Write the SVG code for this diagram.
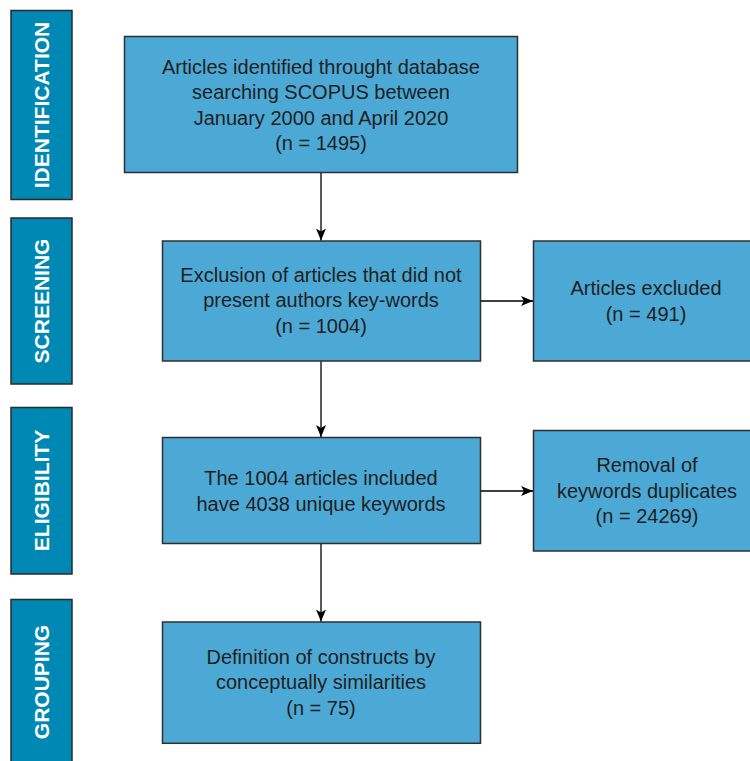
<svg xmlns="http://www.w3.org/2000/svg" width="750" height="761" viewBox="0 0 750 761">
<style>
.side{fill:#0088b4;stroke:#2a2a2a;stroke-width:1.5}
.box{fill:#4ca8d5;stroke:#2f2f2f;stroke-width:1.5}
.st{font-family:"Liberation Sans",Arial,sans-serif;font-weight:bold;font-size:21px;fill:#ffffff;text-anchor:middle;dominant-baseline:central}
.t{font-family:"Liberation Sans",Arial,sans-serif;font-size:20px;fill:#1f1f1f;text-anchor:middle}
.c{stroke:#000;stroke-width:1.3;fill:none}
</style>
<defs>
<marker id="ah" markerUnits="userSpaceOnUse" markerWidth="14" markerHeight="14" viewBox="0 0 14 14" refX="12" refY="7" orient="auto">
<path d="M0,2 L12,7 L0,12 L3,7 z" fill="#000"/>
</marker>
</defs>
<g id="stage-identification"><rect class="side" x="11" y="10.5" width="61" height="189"/><text class="st" transform="translate(41,105) rotate(-90)">IDENTIFICATION</text></g>
<g id="stage-screening"><rect class="side" x="11" y="218" width="61" height="166"/><text class="st" transform="translate(41,301) rotate(-90)">SCREENING</text></g>
<g id="stage-eligibility"><rect class="side" x="11" y="407.5" width="61" height="166.5"/><text class="st" transform="translate(41,490.5) rotate(-90)">ELIGIBILITY</text></g>
<g id="stage-grouping"><rect class="side" x="11" y="599.5" width="61" height="170"/><text class="st" transform="translate(41,682) rotate(-90)">GROUPING</text></g>
<g id="n-identified"><rect class="box" x="124.5" y="36.5" width="393" height="136"/>
<text class="t" x="321" y="73.5">Articles identified throught database</text>
<text class="t" x="321" y="99">searching SCOPUS between</text>
<text class="t" x="321" y="124.5">January 2000 and April 2020</text>
<text class="t" x="321" y="150">(n = 1495)</text></g>
<g id="n-screened"><rect class="box" x="162.5" y="241" width="318" height="120"/>
<text class="t" x="321" y="281.7">Exclusion of articles that did not</text>
<text class="t" x="321" y="307.2">present authors key-words</text>
<text class="t" x="321" y="332.7">(n = 1004)</text></g>
<g id="n-excluded"><rect class="box" x="533.5" y="241" width="226" height="120"/>
<text class="t" x="646" y="295">Articles excluded</text>
<text class="t" x="646" y="320.7">(n = 491)</text></g>
<g id="n-eligible"><rect class="box" x="162.5" y="437.5" width="318" height="106"/>
<text class="t" x="321" y="485">The 1004 articles included</text>
<text class="t" x="321" y="510.7">have 4038 unique keywords</text></g>
<g id="n-duplicates"><rect class="box" x="533.5" y="430.5" width="226" height="120.5"/>
<text class="t" x="647" y="472.3">Removal of</text>
<text class="t" x="647" y="497.7">keywords duplicates</text>
<text class="t" x="647" y="523.3">(n = 24269)</text></g>
<g id="n-grouping"><rect class="box" x="162.5" y="622" width="318" height="121.3"/>
<text class="t" x="321" y="664">Definition of constructs by</text>
<text class="t" x="321" y="689.3">conceptually similarities</text>
<text class="t" x="321" y="715">(n = 75)</text></g>
<g id="connectors">
<line class="c" x1="321" y1="173" x2="321" y2="240.5" marker-end="url(#ah)"/>
<line class="c" x1="321" y1="361.5" x2="321" y2="437" marker-end="url(#ah)"/>
<line class="c" x1="321" y1="544" x2="321" y2="621.5" marker-end="url(#ah)"/>
<line class="c" x1="481" y1="301" x2="533" y2="301" marker-end="url(#ah)"/>
<line class="c" x1="481" y1="491" x2="533" y2="491" marker-end="url(#ah)"/>
</g>
</svg>
